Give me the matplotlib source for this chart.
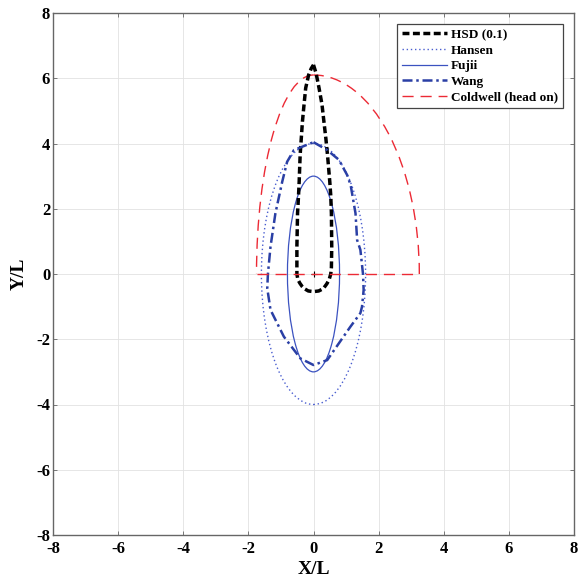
import numpy as np
import matplotlib
matplotlib.use("Agg")
from matplotlib import pyplot as plt
from matplotlib.patches import Ellipse, Arc
from matplotlib.lines import Line2D

# HSD (0.1) outline (X/L, Y/L)
hsd_x = [0.0, 0.08, 0.17, 0.26, 0.32, 0.38, 0.43, 0.50, 0.53, 0.55, 0.56, 0.55, 0.53,
         0.48, 0.41, 0.30, 0.16, 0.0, -0.16, -0.28, -0.35, -0.42, -0.48, -0.51, -0.51,
         -0.49, -0.46, -0.44, -0.41, -0.34, -0.29, -0.24, -0.15, -0.07, 0.0]
hsd_y = [6.41, 6.15, 5.70, 5.20, 4.67, 4.15, 3.65, 2.83, 2.40, 1.86, 0.83, 0.20, 0.0,
         -0.17, -0.30, -0.45, -0.52, -0.54, -0.52, -0.45, -0.38, -0.28, -0.17, 0.0, 0.83,
         1.86, 2.40, 2.83, 3.65, 4.67, 5.20, 5.70, 6.10, 6.30, 6.41]

# Wang outline
wang_x = [0.0, 0.42, 0.78, 1.03, 1.14, 1.29, 1.34, 1.44, 1.52, 1.54, 1.49, 1.44, 1.13,
          0.42, 0.0, -0.40, -0.91, -1.32, -1.42, -1.40, -1.32, -1.17, -0.96,
          -0.81, -0.60, 0.0]
wang_y = [4.04, 3.80, 3.50, 3.04, 2.73, 1.86, 1.04, 0.74, 0.0, -0.49, -1.0, -1.2, -1.62,
          -2.64, -2.79, -2.59, -1.92, -1.10, -0.44, 0.0, 0.84, 1.86, 2.83,
          3.44, 3.80, 4.04]

# Hansen and Fujii ellipses: semi-axes (x, y)
hansen_ab = (1.6, 4.0)
fujii_ab = (0.8, 3.0)

# Coldwell (head on): starboard, port, fore
cold_stbd = 3.25
cold_port = 1.75
cold_fore = 6.1

ticks = [-8, -6, -4, -2, 0, 2, 4, 6, 8]

plt.rcParams['font.family'] = ['Liberation Serif', 'DejaVu Serif']
plt.rcParams['font.weight'] = 'bold'
plt.rcParams['axes.unicode_minus'] = False

fig = plt.figure(figsize=(5.79, 5.80), dpi=100)
ax = fig.add_axes([53/579, 45/580, 521/579, 522/580])

hsd_c = 'black'
hansen_c = '#4a5ed0'
fujii_c = '#3b52c0'
wang_c = '#2a3fa5'
cold_c = '#ec2a35'

# HSD
ax.plot(hsd_x, hsd_y, color=hsd_c, lw=2.5, dashes=(2.0, 1.0))
ax.plot([0], [0], marker='+', color='black', ms=4, mew=0.8)

# Hansen / Fujii
ax.add_patch(Ellipse((0, 0), 2*hansen_ab[0], 2*hansen_ab[1], fill=False,
                     ec=hansen_c, lw=1.0, ls=(0, (1, 2))))
ax.add_patch(Ellipse((0, 0), 2*fujii_ab[0], 2*fujii_ab[1], fill=False,
                     ec=fujii_c, lw=0.9, ls='-'))

# Wang
ax.plot(wang_x, wang_y, color=wang_c, lw=1.8, dashes=(4, 1.5, 1, 1.5))

# Coldwell
ax.add_patch(Arc((0, 0), 2*cold_stbd, 2*cold_fore, theta1=0, theta2=90,
                 ec=cold_c, lw=1.0, ls=(0, (8, 5))))
ax.add_patch(Arc((0, 0), 2*cold_port, 2*cold_fore, theta1=90, theta2=180,
                 ec=cold_c, lw=1.0, ls=(0, (8, 5))))
ax.plot([-cold_port, cold_stbd], [0, 0], color=cold_c, lw=1.0, dashes=(8, 5))

ax.set_xlim(-8, 8)
ax.set_ylim(-8, 8)
ax.set_xticks(ticks)
ax.set_yticks(ticks)
ax.grid(True, color='#e2e2e2', lw=0.6)
ax.set_axisbelow(True)
ax.tick_params(direction='in', length=3, width=0.6, colors='#666666', labelcolor='black',
               labelsize=12, top=True, right=True, pad=2)
ax.tick_params(axis='x', pad=4)
for s in ax.spines.values():
    s.set_color('#666666')
    s.set_linewidth(1.0)
ax.set_xlabel('X/L', fontsize=14, fontweight='bold', labelpad=3)
ax.set_ylabel('Y/L', fontsize=14, fontweight='bold', labelpad=6)

handles = [
    Line2D([], [], color=hsd_c, lw=2.5, dashes=(2.0, 1.0)),
    Line2D([], [], color=hansen_c, lw=1.0, ls=(0, (1, 2))),
    Line2D([], [], color=fujii_c, lw=0.9),
    Line2D([], [], color=wang_c, lw=1.8, dashes=(4, 1.5, 1, 1.5)),
    Line2D([], [], color=cold_c, lw=1.0, dashes=(8, 5)),
]
labels = ['HSD (0.1)', 'Hansen', 'Fujii', 'Wang', 'Coldwell (head on)']
leg = ax.legend(handles, labels, loc='upper right', prop={'weight': 'bold', 'size': 9.5},
                fancybox=False, edgecolor='#444444', framealpha=1, handlelength=3.4,
                handletextpad=0.3, labelspacing=0.25, borderaxespad=0.8, borderpad=0.4)
leg.get_frame().set_linewidth(0.9)

plt.savefig('out.png', dpi=100)
